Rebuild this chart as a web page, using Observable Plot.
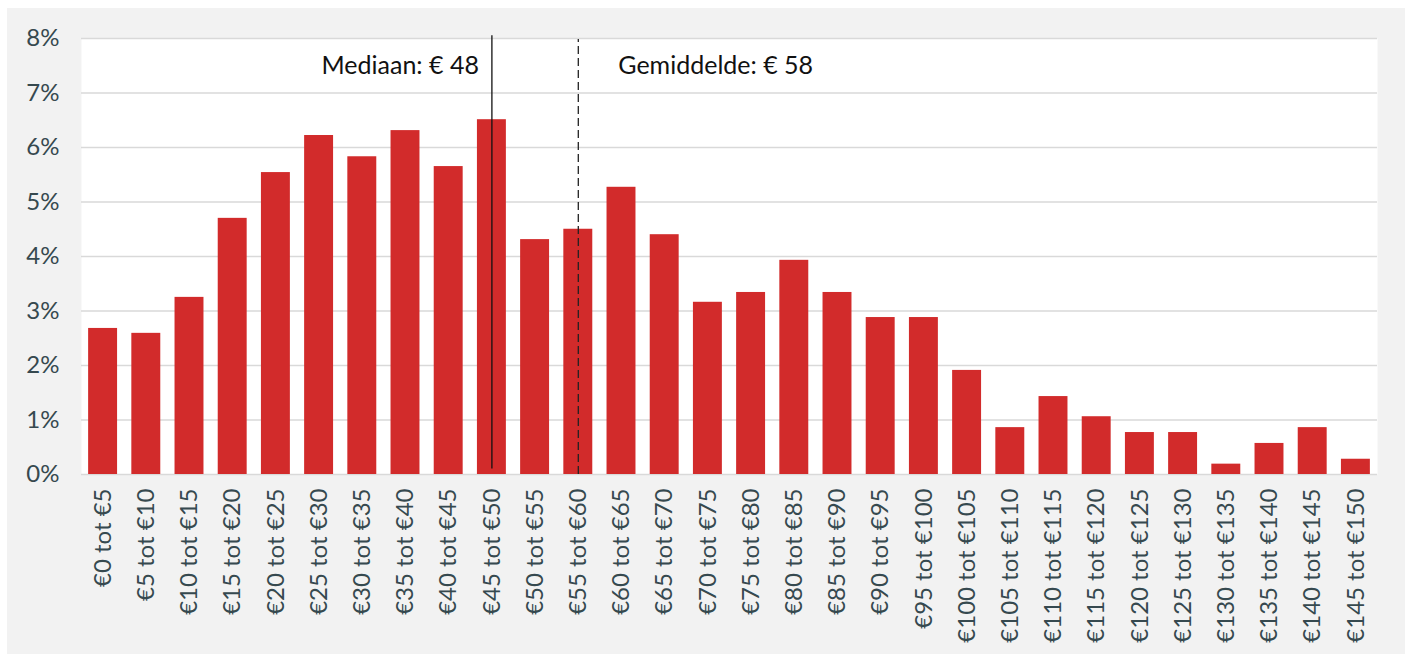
<!DOCTYPE html>
<html>
<head>
<meta charset="utf-8">
<script src="https://cdn.jsdelivr.net/npm/d3@7"></script>
<script src="https://cdn.jsdelivr.net/npm/@observablehq/plot@0.6"></script>
<style>
  html, body { margin: 0; padding: 0; background: #ffffff; }
  #chart { position: absolute; left: 7px; top: 8px; }
</style>
</head>
<body>
<div id="chart"></div>
<script>
const categories = [
  "€0 tot €5", "€5 tot €10", "€10 tot €15", "€15 tot €20", "€20 tot €25",
  "€25 tot €30", "€30 tot €35", "€35 tot €40", "€40 tot €45", "€45 tot €50",
  "€50 tot €55", "€55 tot €60", "€60 tot €65", "€65 tot €70", "€70 tot €75",
  "€75 tot €80", "€80 tot €85", "€85 tot €90", "€90 tot €95", "€95 tot €100",
  "€100 tot €105", "€105 tot €110", "€110 tot €115", "€115 tot €120", "€120 tot €125",
  "€125 tot €130", "€130 tot €135", "€135 tot €140", "€140 tot €145", "€145 tot €150"
];
const shares = [
  2.68, 2.59, 3.25, 4.70, 5.54,
  6.22, 5.83, 6.31, 5.65, 6.51,
  4.31, 4.50, 5.27, 4.40, 3.16,
  3.34, 3.93, 3.34, 2.88, 2.88,
  1.91, 0.86, 1.43, 1.06, 0.77,
  0.77, 0.19, 0.57, 0.86, 0.28
];
const yTicks = [0, 1, 2, 3, 4, 5, 6, 7, 8];
const medianLine = [{cat: "€45 tot €50", label: "Mediaan: € 48"}];
const meanLine = [{cat: "€55 tot €60", label: "Gemiddelde: € 58"}];

const data = categories.map((c, i) => ({cat: c, pct: shares[i]}));

const chart = Plot.plot({
  width: 1398,
  height: 646,
  marginLeft: 74,
  marginRight: 28,
  marginTop: 30,
  marginBottom: 180,
  style: {background: "#f2f2f2", fontFamily: "Lato, 'Noto Sans', sans-serif", fontSize: "24px", color: "#36494f"},
  x: {domain: categories, paddingInner: 0.33, paddingOuter: 0.165, round: false, label: null},
  y: {domain: [0, 8], label: null},
  marks: [
    Plot.frame({fill: "white", stroke: null}),
    Plot.gridY(yTicks, {stroke: "#d9d9d9", strokeOpacity: 1, strokeWidth: 1.6}),
    Plot.barY(data, {x: "cat", y: "pct", fill: "#d22b2b"}),
    Plot.ruleX(medianLine, {x: "cat", y1: 0.1, y2: 8.05, stroke: "#111", strokeWidth: 1.3}),
    Plot.ruleX(meanLine, {x: "cat", y1: 0, y2: 7.98, stroke: "#222", strokeWidth: 1.3, strokeDasharray: "8,4"}),
    Plot.text(medianLine, {x: "cat", y: () => 7.5, text: "label", textAnchor: "end", dx: -13, fill: "#111", fontSize: 25}),
    Plot.text(meanLine, {x: "cat", y: () => 7.5, text: "label", textAnchor: "start", dx: 40, fill: "#111", fontSize: 25}),
    Plot.axisX({tickRotate: -90, tickSize: 0, tickPadding: 14, fontSize: 24, label: null}),
    Plot.axisY({ticks: yTicks, tickSize: 0, tickPadding: 22, fontSize: 24, tickFormat: d => d + "%", label: null})
  ]
});
document.getElementById("chart").appendChild(chart);
</script>
</body>
</html>
